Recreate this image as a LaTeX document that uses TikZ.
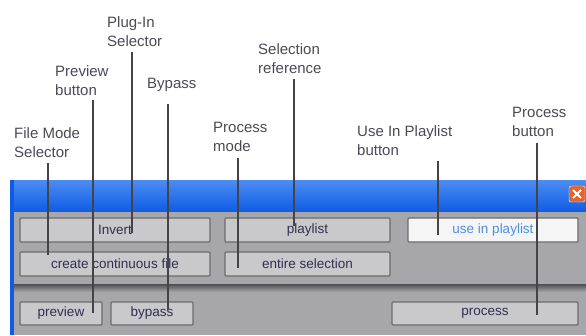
\documentclass[tikz,border=0pt]{standalone}
\usepackage{fontspec}
\setmainfont{Liberation Sans}

\definecolor{barblue}{HTML}{0F5CE4}
\definecolor{barlight}{HTML}{4A8CF2}
\definecolor{bodygray}{HTML}{A6A6AB}
\definecolor{sepdark}{HTML}{4E4E54}
\definecolor{btnfill}{HTML}{C9C9CC}
\definecolor{btnedge}{HTML}{6C6C70}
\definecolor{btntext}{HTML}{30304E}
\definecolor{labelgray}{HTML}{4A4A56}
\definecolor{linegray}{HTML}{444448}
\definecolor{closeorange}{HTML}{E2642E}
\definecolor{activeblue}{HTML}{4C8EE6}

\begin{document}
\begin{tikzpicture}[x=1pt,y=-1pt,
  lbl/.style={anchor=north west,inner sep=0pt,align=left,text=labelgray,
    font=\fontsize{15}{19}\selectfont},
  btn/.style={draw=btnedge,line width=1.2pt,fill=btnfill,rounded corners=1pt,
    inner sep=0pt,minimum height=24pt,text=btntext,font=\fontsize{13.5}{16}\selectfont},
  callout/.style={draw=linegray,line width=1.8pt}]

\useasboundingbox (0,0) rectangle (586,335);

\shade [top color=barlight,bottom color=barblue] (10,180) rectangle (586,212);
\fill [barblue] (10,180) rectangle (14,335);
\fill [bodygray] (14,212) rectangle (586,335);
\shade [top color=sepdark,bottom color=bodygray] (14,284) rectangle (586,292);

\node (close) [draw=white,fill=closeorange,rounded corners=2pt,minimum size=16pt,inner sep=0pt] at (577,194) {};
\draw [white,line width=2pt] ([shift={(-4,-4)}]close.center) -- ([shift={(4,4)}]close.center);
\draw [white,line width=2pt] ([shift={(-4,4)}]close.center) -- ([shift={(4,-4)}]close.center);

\node (invert) [btn,minimum width=190pt] at (115,230) {Invert};
\node (contfile) [btn,minimum width=190pt] at (115,264) {create continuous file};
\node (playlist) [btn,minimum width=165pt] at (307.5,230) {playlist};
\node (entiresel) [btn,minimum width=165pt] at (307.5,264) {entire selection};
\node (useplaylist) [btn,minimum width=170pt,fill=white!92!gray,text=activeblue] at (493,230) {use in playlist};
\node (preview) [btn,minimum width=82pt,minimum height=23pt] at (61,313.5) {preview};
\node (bypass) [btn,minimum width=82pt,minimum height=23pt] at (152,313.5) {bypass};
\node (process) [btn,minimum width=186pt,minimum height=23pt] at (485,313.5) {process};

\node (filemodeL) [lbl] at (14,127) {File Mode\\Selector};
\node (previewL) [lbl] at (55,65) {Preview\\button};
\node (pluginL) [lbl] at (107,16) {Plug-In\\Selector};
\node (bypassL) [lbl] at (147,78) {Bypass};
\node (procmodeL) [lbl] at (213,122) {Process\\mode};
\node (selrefL) [lbl] at (258,43) {Selection\\reference};
\node (useplaylistL) [lbl] at (357,125) {Use In Playlist\\button};
\node (processL) [lbl] at (512,107) {Process\\button};

\coordinate (filemode) at (48,255);
\coordinate (previewpt) at (93,313);
\coordinate (plugin) at (132,233);
\coordinate (bypasspt) at (168,310);
\coordinate (procmode) at (238,268);
\coordinate (selref) at (294,226);
\coordinate (useplaylistpt) at (438,235);
\coordinate (processpt) at (537,315);

\draw [callout] ([yshift=-6pt]filemodeL.south -| filemode) -- (filemode);
\draw [callout] ([yshift=-5pt]previewL.south -| previewpt) -- (previewpt);
\draw [callout] ([yshift=-6pt]pluginL.south -| plugin) -- (plugin);
\draw [callout] ([yshift=-12pt]bypassL.south -| bypasspt) -- (bypasspt);
\draw [callout] ([yshift=-6pt]procmodeL.south -| procmode) -- (procmode);
\draw [callout] ([yshift=-6pt]selrefL.south -| selref) -- (selref);
\draw [callout] ([yshift=-6pt]useplaylistL.south -| useplaylistpt) -- (useplaylistpt);
\draw [callout] ([yshift=-6pt]processL.south -| processpt) -- (processpt);

\end{tikzpicture}
\end{document}
